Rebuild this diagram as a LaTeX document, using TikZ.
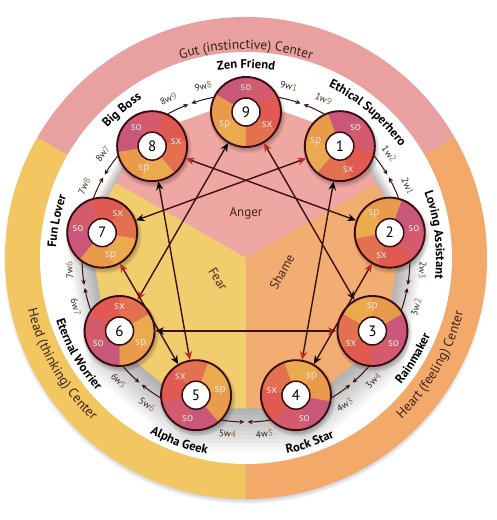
\documentclass[tikz,border=0pt]{standalone}
\usepackage{fontspec}
\setmainfont{PT Sans}
\usetikzlibrary{arrows.meta,decorations.text}

\definecolor{gutring}{HTML}{E8A0A0}
\definecolor{headring}{HTML}{F2C660}
\definecolor{heartring}{HTML}{F2A96A}
\definecolor{angerfill}{HTML}{EFA7A3}
\definecolor{fearfill}{HTML}{F2CD6E}
\definecolor{shamefill}{HTML}{F2AE72}
\definecolor{soA}{HTML}{D45A6E}
\definecolor{soB}{HTML}{C9577A}
\definecolor{spA}{HTML}{E99A4A}
\definecolor{spB}{HTML}{ECAA4E}
\definecolor{sxA}{HTML}{E3704E}
\definecolor{sxB}{HTML}{E05A52}
\definecolor{rim}{HTML}{3A0C12}
\definecolor{hexcol}{HTML}{3C1010}
\definecolor{redtip}{HTML}{C8281E}
\definecolor{wingtan}{HTML}{A0703A}
\definecolor{subtext}{HTML}{FBE0D8}
\definecolor{areacol}{HTML}{4A2418}
\definecolor{ringtext}{HTML}{3B2414}

\newcommand\namefont{\fontsize{12.5}{14}\selectfont\bfseries}
\newcommand\ringfont{\fontsize{13.5}{15}\selectfont\color{ringtext}}
% text along an arc: clockwise (letters face out) or counter-clockwise (letters face in)
\newcommand\cwarc[4]{\path[decorate,decoration={text along path,text align=center,text={|#4|#3}}]
  (#1+45:#2) arc[start angle=#1+45,end angle=#1-45,radius=#2];}
\newcommand\ccwarc[4]{\path[decorate,decoration={text along path,text align=center,text={|#4|#3}}]
  (#1-45:#2) arc[start angle=#1-45,end angle=#1+45,radius=#2];}
\newcommand\sector[3]{\fill[#1] (0,0) -- (#2:35pt) arc[start angle=#2,end angle=#3,radius=35pt] -- cycle;}

\tikzset{
  typering/.style={circle,minimum size=70pt,inner sep=0pt,draw=rim,line width=1.9pt},
  typecore/.style={circle,minimum size=28pt,inner sep=0pt,fill=white,draw=rim,line width=1.5pt,
    font=\fontsize{15}{15}\selectfont},
  sublabel/.style={text=subtext,inner sep=0pt,font=\fontsize{11.5}{11.5}\selectfont},
  hexline/.style={draw=hexcol,line width=1.4pt,
    arrows={Stealth[length=8.5pt,width=7.5pt,color=black]-Stealth[length=8.5pt,width=7.5pt,color=redtip]}},
  wingline/.style={draw=hexcol,line width=1pt,-{Stealth[length=5pt,width=4.5pt]}},
  winglabel/.style={inner sep=0pt,text=black!85,font=\fontsize{9.5}{9.5}\selectfont},
  areatext/.style={text=areacol,font=\fontsize{13}{13}\selectfont}
}

\begin{document}
\begin{tikzpicture}[x=1pt,y=1pt]
\useasboundingbox (-246,-262) rectangle (250,258);

% shadow and outer ring
\foreach \s in {1,...,6}
  \fill[black,opacity=0.035] (0,-4) circle[radius=(236+\s)*1pt];
\fill[gutring] (0,0) -- (30:241pt) arc[start angle=30,end angle=150,radius=241pt] -- cycle;
\fill[headring] (0,0) -- (150:241pt) arc[start angle=150,end angle=270,radius=241pt] -- cycle;
\fill[heartring] (0,0) -- (270:241pt) arc[start angle=270,end angle=390,radius=241pt] -- cycle;
\fill[white] (0,0) circle[radius=206pt];

% soft shadow of the centre
\begin{scope}
  \clip (0,0) circle[radius=206pt];
  \foreach \s in {0,...,11}{
    \begin{scope}[shift={(0,-2*\s)}]
      \fill[black,opacity=0.03] (90:158+2.2*\s)
        \foreach \k in {1,...,8}{ -- (90-40*\k:158+2.2*\s)} -- cycle;
    \end{scope}
  }
\end{scope}

% centre areas
\begin{scope}
  \clip (90:160pt) \foreach \k in {1,...,8}{ -- (90-40*\k:160pt)} -- cycle;
  \fill[angerfill] (0,0) -- (30:200pt) arc[start angle=30,end angle=150,radius=200pt] -- cycle;
  \fill[fearfill] (0,0) -- (150:200pt) arc[start angle=150,end angle=270,radius=200pt] -- cycle;
  \fill[shamefill] (0,0) -- (270:200pt) arc[start angle=270,end angle=390,radius=200pt] -- cycle;
\end{scope}
\node[areatext] (anger) at (0,45) {Anger};
\node[areatext,rotate=-58] (fear) at (-28,-21) {Fear};
\node[areatext,rotate=61] (shame) at (36,-14) {Shame};

% centre names
\cwarc{90}{209pt}{Gut (instinctive) Center}{\ringfont}
\ccwarc{210}{224pt}{Head (thinking) Center}{\ringfont}
\ccwarc{-30}{224pt}{Heart (feeling) Center}{\ringfont}

% type names
\cwarc{90}{190pt}{Zen Friend}{\namefont}
\cwarc{50}{190pt}{Ethical Superhero}{\namefont}
\cwarc{7}{190pt}{Loving Assistant}{\namefont}
\ccwarc{-31}{200pt}{Rainmaker}{\namefont}
\ccwarc{-71}{200pt}{Rock Star}{\namefont}
\ccwarc{-110}{200pt}{Alpha Geek}{\namefont}
\ccwarc{-150}{200pt}{Eternal Worrier}{\namefont}
\cwarc{169}{190pt}{Fun Lover}{\namefont}
\cwarc{130}{190pt}{Big Boss}{\namefont}

% type circles
\foreach \n in {1,...,9}{
  \pgfmathsetmacro\a{90-40*\n}
  \begin{scope}[shift={(\a:146pt)}]
    \foreach \s in {0,1,2}
      \fill[black,opacity=0.08] (1.5,-3) circle[radius=(35+1.5*\s)*1pt];
  \end{scope}
}
\foreach \n in {1,...,9}{
  \pgfmathsetmacro\a{90-40*\n}
  \begin{scope}[shift={(\a:146pt)}]
    \sector{soA}{\a-60}{\a}
    \sector{soB}{\a}{\a+60}
    \sector{spA}{\a+60}{\a+120}
    \sector{spB}{\a+120}{\a+180}
    \sector{sxA}{\a+180}{\a+240}
    \sector{sxB}{\a+240}{\a+300}
    \node[sublabel] (so\n) at (\a:24.5pt) {so};
    \node[sublabel] (sp\n) at (\a+120:24.5pt) {sp};
    \node[sublabel] (sx\n) at (\a-120:24.5pt) {sx};
  \end{scope}
  \node[typering] (t\n) at (\a:146pt) {};
  \node[typecore] (k\n) at (t\n) {\n};
}

% wings
\foreach \n in {1,...,9}{
  \pgfmathsetmacro\a{90-40*\n}
  \pgfmathtruncatemacro\pa{\a+66}
  \pgfmathtruncatemacro\pb{\a-66}
  \pgfmathtruncatemacro\cw{mod(\n,9)+1}
  \pgfmathtruncatemacro\ccw{mod(\n+7,9)+1}
  \draw[wingline] (t\n.\pa) arc[start angle=\a+11.5,end angle=\a+19.4,radius=164pt];
  \draw[wingline] (t\n.\pb) arc[start angle=\a-11.5,end angle=\a-19.4,radius=164pt];
  \pgfmathsetmacro\la{\a+14}
  \pgfmathsetmacro\ra{mod(\la+370,360)<200 ? \la-90 : \la+90}
  \node[winglabel,rotate=\ra] (w\n\ccw) at (\la:177pt) {\n w\textcolor{wingtan}{\ccw}};
  \pgfmathsetmacro\lb{\a-14}
  \pgfmathsetmacro\rb{mod(\lb+370,360)<200 ? \lb-90 : \lb+90}
  \node[winglabel,rotate=\rb] (w\n\cw) at (\lb:177pt) {\n w\textcolor{wingtan}{\cw}};
}

% lines of the enneagram
\foreach \p/\q in {9/6,6/3,3/9,1/4,4/2,2/8,8/5,5/7,7/1}
  \draw[hexline] (t\p) -- (t\q);

\end{tikzpicture}
\end{document}
